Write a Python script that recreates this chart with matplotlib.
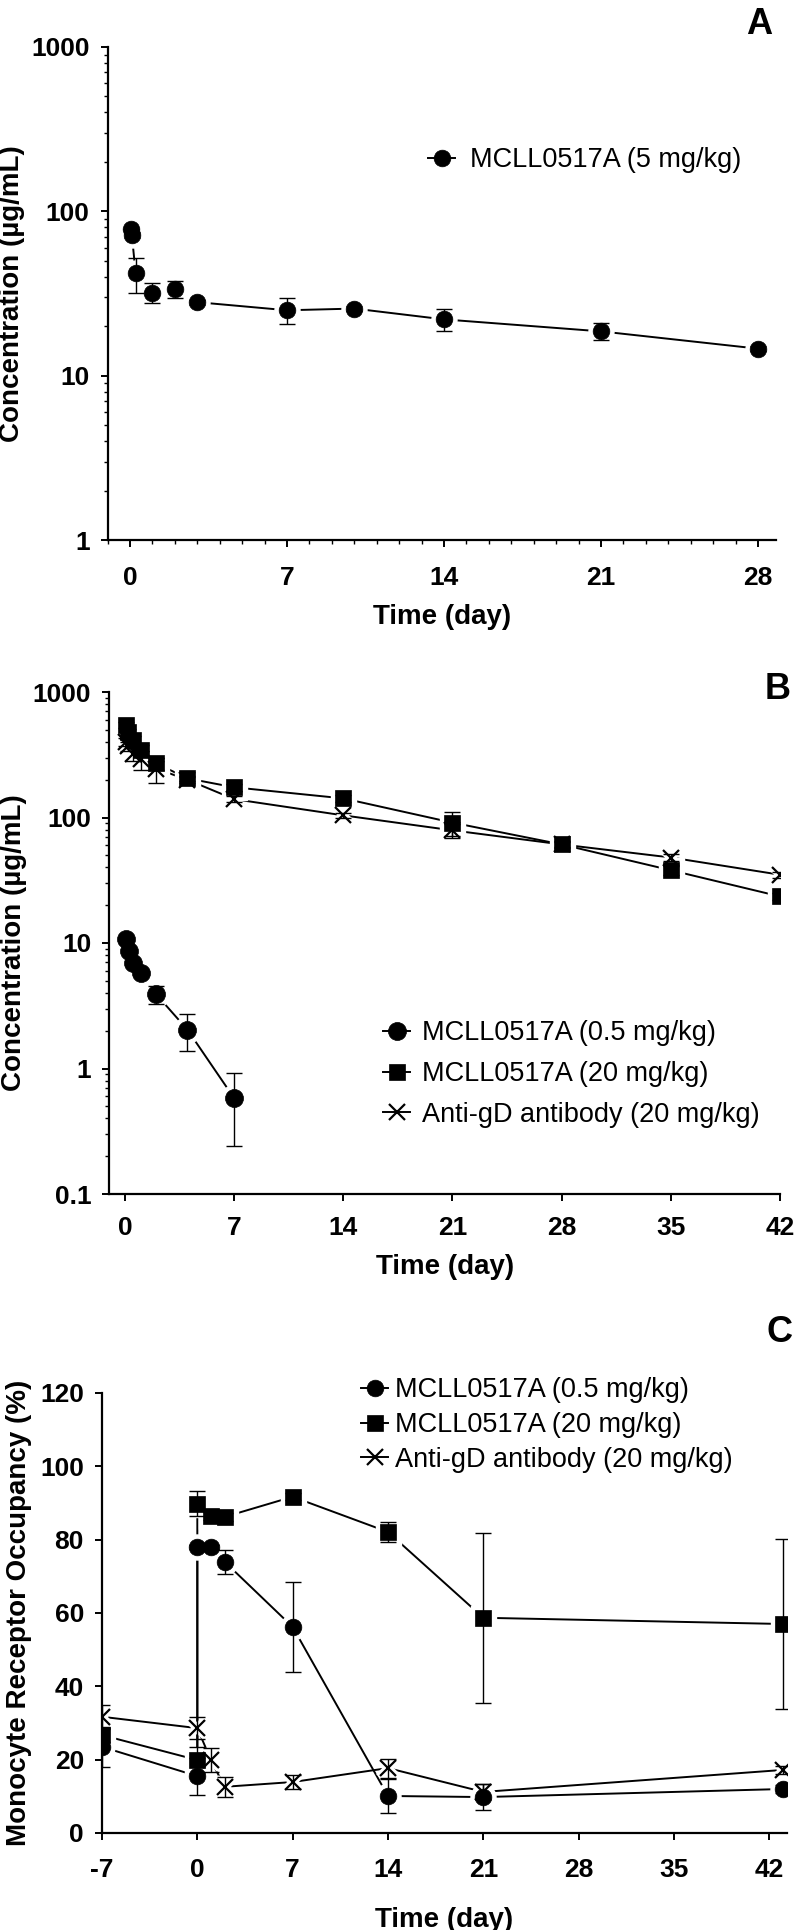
import matplotlib
matplotlib.use("Agg")
import matplotlib.pyplot as plt
from matplotlib import ticker
from matplotlib.lines import Line2D

plt.rcParams['font.family'] = ['Liberation Sans', 'DejaVu Sans']
plt.rcParams['axes.unicode_minus'] = False

# --------------- Panel A: 5 mg/kg PK ---------------
a_day = [0.04, 0.08, 0.25, 1, 2, 3, 7, 10, 14, 21, 28]
a_conc = [78, 72, 42, 32, 33.5, 28, 25, 25.6, 22, 18.6, 14.6]
a_sd = [0, 3, 10, 4.5, 4, 1, 4.5, 1, 3.3, 2.2, 0.5]
a_xticks = [0, 7, 14, 21, 28]
a_yticks = [1, 10, 100, 1000]

# --------------- Panel B: 0.5 / 20 mg/kg PK ---------------
b_day_low = [0.04, 0.25, 0.5, 1, 2, 4, 7]
b_conc_low = [10.8, 8.6, 6.9, 5.8, 3.9, 2.04, 0.58]
b_sd_low = [0.3, 0.3, 0.3, 0.3, 0.65, 0.66, 0.34]
b_day = [0.04, 0.2, 0.5, 1, 2, 4, 7, 14, 21, 28, 35, 42]
b_conc_high = [545, 480, 414, 345, 270, 205, 174, 142, 91, 61, 38, 23.5]
b_sd_high = [30, 30, 30, 30, 30, 10, 10, 10, 20, 4, 3, 1.5]
b_conc_gd = [400, 370, 320, 290, 245, 200, 140, 104, 79, 61, 48, 35]
b_sd_gd = [30, 30, 40, 50, 55, 10, 8, 5, 10, 3, 3, 2]
b_xticks = [0, 7, 14, 21, 28, 35, 42]
b_yticks = [0.1, 1, 10, 100, 1000]

# --------------- Panel C: receptor occupancy ---------------
c_day = [-7, 0, 0, 1, 2, 7, 14, 21, 43]
c_occ_low = [23.5, 15.5, 78, 78, 74, 56.2, 10.1, 9.8, 12]
c_sd_low = [5.5, 5, 0.5, 0.5, 3.3, 12.2, 4.6, 3.5, 1]
c_occ_high = [26.7, 19.9, 89.8, 86.5, 86.2, 91.7, 82.1, 58.7, 57.0]
c_sd_high = [2, 3.5, 3.4, 1, 1, 1, 2.8, 23.2, 23.2]
c_day_gd = [-7, 0, 1, 2, 7, 14, 21, 43]
c_occ_gd = [31.7, 28.6, 19.9, 12.6, 13.9, 17.7, 11.2, 17.2]
c_sd_gd = [3.3, 3.0, 3.3, 2.8, 2.0, 2.6, 2.2, 1]
c_xticks = [-7, 0, 7, 14, 21, 28, 35, 42]
c_xticklabels = ['-7', '0', '7', '14', '21', '28', '35', '42']
c_yticks = [0, 20, 40, 60, 80, 100, 120]

labels_low = 'MCLL0517A (0.5 mg/kg)'
labels_high = 'MCLL0517A (20 mg/kg)'
labels_gd = 'Anti-gD antibody (20 mg/kg)'

W, H = 800, 1930
TICK_FS = 19
LABEL_FS = 20
LEG_FS = 19.5

fig = plt.figure(figsize=(W / 100, H / 100), dpi=100)


def px_axes(left, top, right, bottom):
    return fig.add_axes([left / W, 1 - bottom / H, (right - left) / W, (bottom - top) / H])


def series(ax, x, y, sd, marker, ms):
    ax.plot(x, y, color='black', lw=1.4, zorder=1)
    # 白色描边，让连线在标记前断开
    if marker == 'x':
        ax.plot(x, y, ls='none', marker='x', ms=ms + 1, mew=6, color='white', zorder=2)
    else:
        ax.plot(x, y, ls='none', marker=marker, ms=ms + 6, color='white', zorder=2)
    ax.errorbar(x, y, yerr=sd, fmt='none', ecolor='black', elinewidth=1.0,
                capsize=6, capthick=1.0, zorder=3)
    ax.plot(x, y, ls='none', marker=marker, ms=ms, color='black',
            mew=1.6 if marker == 'x' else 0.5, zorder=4)


def handle(marker, ms):
    return Line2D([], [], color='black', lw=1.4, marker=marker, ms=ms,
                  mew=1.6 if marker == 'x' else 0.5)


def style(ax, xpad, ypad):
    for s in ('top', 'right'):
        ax.spines[s].set_visible(False)
    for s in ('left', 'bottom'):
        ax.spines[s].set_linewidth(1.6)
    ax.tick_params(which='major', direction='out', length=5, width=1.4,
                   labelsize=TICK_FS)
    ax.tick_params(which='minor', direction='out', length=3, width=1.0)
    ax.tick_params(axis='x', which='major', pad=xpad)
    ax.tick_params(axis='y', which='major', pad=ypad)
    for t in ax.get_xticklabels() + ax.get_yticklabels():
        t.set_fontweight('bold')


log_fmt = ticker.FuncFormatter(lambda v, _: f"{v:g}")

# --------------- A ---------------
ax = px_axes(107.6, 47, 776, 540)
ax.set_yscale('log')
ax.set_ylim(1, 1000)
ax.set_xlim(-1, 28.8)
series(ax, a_day, a_conc, a_sd, 'o', 12)
ax.set_xticks(a_xticks)
ax.xaxis.set_minor_locator(ticker.MultipleLocator(1))
ax.set_yticks(a_yticks)
ax.yaxis.set_major_formatter(log_fmt)
ax.yaxis.set_minor_formatter(ticker.NullFormatter())
style(ax, 14, 8)
ax.set_xlabel('Time (day)', fontsize=LABEL_FS, fontweight='bold', labelpad=10)
ax.set_ylabel('Concentration (µg/mL)', fontsize=LABEL_FS, fontweight='bold', labelpad=4)
ax.legend([handle('o', 12)], ['MCLL0517A (5 mg/kg)'], loc='center left',
          bbox_to_anchor=(428 / W, 1 - 160 / H), bbox_transform=fig.transFigure,
          frameon=False, fontsize=LEG_FS, handlelength=1.0, handletextpad=0.55,
          borderpad=0, borderaxespad=0)
fig.text(759 / W, 1 - 24 / H, 'A', fontsize=26, fontweight='bold', ha='center', va='center')

# --------------- B ---------------
ax = px_axes(109.4, 692, 780, 1194)
ax.set_yscale('log')
ax.set_ylim(0.1, 1000)
ax.set_xlim(-1, 42)
series(ax, b_day_low, b_conc_low, b_sd_low, 'o', 13)
series(ax, b_day, b_conc_gd, b_sd_gd, 'x', 12)
series(ax, b_day, b_conc_high, b_sd_high, 's', 12)
ax.set_xticks(b_xticks)
ax.set_yticks(b_yticks)
ax.yaxis.set_major_formatter(log_fmt)
ax.yaxis.set_minor_formatter(ticker.NullFormatter())
style(ax, 11, 8)
ax.set_xlabel('Time (day)', fontsize=LABEL_FS, fontweight='bold', labelpad=10)
ax.set_ylabel('Concentration (µg/mL)', fontsize=LABEL_FS, fontweight='bold', labelpad=4)
ax.legend([handle('o', 13), handle('s', 12), handle('x', 12)],
          [labels_low, labels_high, labels_gd], loc='center left',
          bbox_to_anchor=(383 / W, 1 - 1074 / H), bbox_transform=fig.transFigure,
          frameon=False, fontsize=LEG_FS, handlelength=1.0, handletextpad=0.43,
          labelspacing=0.55, borderpad=0, borderaxespad=0)
fig.text(778 / W, 1 - 690 / H, 'B', fontsize=26, fontweight='bold', ha='center', va='center')

# --------------- C ---------------
ax = px_axes(102, 1393, 787, 1833)
ax.set_ylim(0, 120)
ax.set_xlim(-7, 43.3)
series(ax, c_day, c_occ_low, c_sd_low, 'o', 12)
series(ax, c_day, c_occ_high, c_sd_high, 's', 12)
series(ax, c_day_gd, c_occ_gd, c_sd_gd, 'x', 12)
ax.set_xticks(c_xticks)
ax.set_xticklabels(c_xticklabels)
ax.set_yticks(c_yticks)
style(ax, 13, 8)
ax.set_xlabel('Time (day)', fontsize=LABEL_FS, fontweight='bold', labelpad=18)
ax.set_ylabel('Monocyte Receptor Occupancy (%)', fontsize=LABEL_FS, fontweight='bold', labelpad=6)
ax.legend([handle('o', 12), handle('s', 12), handle('x', 12)],
          [labels_low, labels_high, labels_gd], loc='center left',
          bbox_to_anchor=(361 / W, 1 - 1425 / H), bbox_transform=fig.transFigure,
          frameon=False, fontsize=LEG_FS, handlelength=1.0, handletextpad=0.25,
          labelspacing=0.32, borderpad=0, borderaxespad=0)
fig.text(780 / W, 1 - 1333 / H, 'C', fontsize=26, fontweight='bold', ha='center', va='center')

fig.savefig('out.png', dpi=100)
